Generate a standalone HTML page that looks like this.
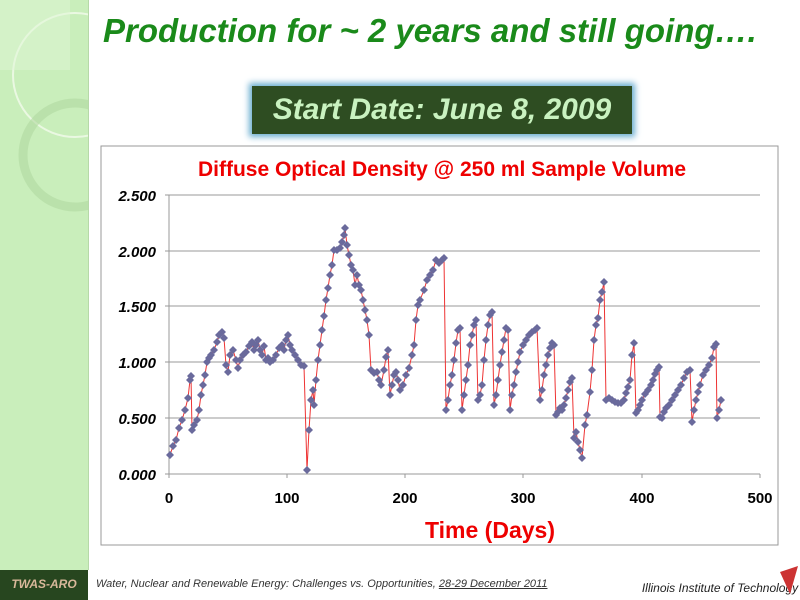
<!DOCTYPE html>
<html><head><meta charset="utf-8"><style>
body{margin:0;width:800px;height:600px;background:#fff;position:relative;overflow:hidden;font-family:"Liberation Sans",sans-serif}
.side{position:absolute;left:0;top:0;width:88px;height:570px;background:#c9eebb;border-right:1px solid #b6d9a8}
.foot{position:absolute;left:0;top:570px;width:88px;height:30px;background:#27461f;color:#d8b89a;font:italic bold 12px "Liberation Sans",sans-serif;line-height:28px;text-align:center}
.t{position:absolute;left:103px;top:12px;color:#1a8a1a;font:italic bold 33px "Liberation Sans",sans-serif;white-space:nowrap}
.sd{position:absolute;left:252px;top:86px;width:380px;height:48px;background:#2e4d22;box-shadow:0 0 6px 3px #6aaed0;color:#c9f2c0;font:italic bold 30px "Liberation Sans",sans-serif;line-height:48px;text-align:center}
.fn{position:absolute;top:578px;font:italic 11px "Liberation Sans",sans-serif;color:#333;white-space:nowrap}
</style></head><body>
<div class="side"><svg width="88" height="570"><circle cx="75" cy="75" r="62" fill="none" stroke="#eaf8e2" stroke-width="2"/><circle cx="75" cy="155" r="52" fill="none" stroke="#b0d8a0" stroke-width="9" opacity=".6"/><rect x="0" y="0" width="70" height="70" fill="#dff5d5" opacity=".5"/></svg></div>
<div class="foot">TWAS-ARO</div>
<div class="t">Production for ~ 2 years and still going….</div>
<div class="sd">Start Date: June 8, 2009</div>
<svg style="position:absolute;left:0;top:0" width="800" height="600" id="s">
<rect x="101" y="146" width="677" height="399" fill="#fff" stroke="#999"/>
<text x="442" y="176" text-anchor="middle" fill="#e00" font-size="21" font-weight="bold" font-family="Liberation Sans">Diffuse Optical Density @ 250 ml Sample Volume</text>
<g stroke="#999" stroke-width="1">
<line x1="165" y1="195" x2="760" y2="195"/><line x1="165" y1="251" x2="760" y2="251"/><line x1="165" y1="306" x2="760" y2="306"/><line x1="165" y1="362" x2="760" y2="362"/><line x1="165" y1="418" x2="760" y2="418"/><line x1="165" y1="474" x2="760" y2="474"/><line x1="169" y1="195" x2="169" y2="478"/>
<line x1="287" y1="474" x2="287" y2="478"/><line x1="405" y1="474" x2="405" y2="478"/><line x1="523" y1="474" x2="523" y2="478"/><line x1="642" y1="474" x2="642" y2="478"/><line x1="760" y1="474" x2="760" y2="478"/>
</g>
<g font-family="Liberation Sans" font-weight="bold" font-style="italic" font-size="15" text-anchor="end">
<text x="156" y="201">2.500</text><text x="156" y="257">2.000</text><text x="156" y="312">1.500</text><text x="156" y="368">1.000</text><text x="156" y="424">0.500</text><text x="156" y="480">0.000</text></g>
<g font-family="Liberation Sans" font-weight="bold" font-size="15" text-anchor="middle">
<text x="169" y="503">0</text><text x="287" y="503">100</text><text x="405" y="503">200</text><text x="523" y="503">300</text><text x="642" y="503">400</text><text x="760" y="503">500</text></g>
<text x="490" y="538" text-anchor="middle" fill="#e00" font-size="23" font-weight="bold" font-family="Liberation Sans">Time (Days)</text>
<text x="720" y="592" text-anchor="middle" font-size="12" font-style="italic" font-family="Liberation Sans" fill="#222">Illinois Institute of Technology</text>
<polygon points="780,572 798,566 790,594" fill="#c33"/>
</svg>
<div class="fn" style="left:96px">Water, Nuclear and Renewable Energy: Challenges vs. Opportunities, <u>28-29 December 2011</u></div>
<script>
var p=[170,455,173,446,176,440,179,428,182,420,185,410,188,398,190,380,191,376,192,430,194,425,197,420,199,410,201,395,203,385,205,375,207,362,209,358,211,355,214,350,217,342,219,335,222,332,224,338,226,365,228,372,230,355,233,350,236,360,238,368,240,360,243,355,246,352,249,346,252,342,254,350,256,345,258,340,260,350,262,355,264,346,266,360,268,358,270,362,273,360,276,355,279,348,282,345,284,350,286,340,288,335,290,345,292,350,295,355,298,360,301,365,304,366,307,470,309,430,311,400,313,390,314,405,316,380,318,360,320,345,322,330,324,316,326,300,328,288,330,275,332,265,334,250,337,250,340,248,342,242,344,235,345,228,347,245,349,255,351,265,353,270,355,285,357,275,359,285,361,290,363,300,365,310,367,320,369,335,371,370,374,373,377,372,379,380,381,385,384,370,386,357,388,350,390,395,392,385,394,375,396,372,398,380,400,390,403,385,406,375,409,368,412,355,414,345,416,320,418,305,420,300,424,290,427,280,430,275,433,270,436,260,439,263,442,260,444,258,446,410,448,400,450,385,452,375,454,360,456,343,458,330,460,328,462,410,464,395,466,380,468,365,470,345,472,335,474,325,476,320,478,400,480,395,482,385,484,360,486,340,488,325,490,315,492,312,494,405,496,395,498,380,500,365,502,352,504,340,506,328,508,330,510,410,512,395,514,385,516,372,518,362,520,352,523,345,526,340,529,335,532,332,535,330,537,328,540,400,542,390,544,375,546,365,548,355,550,348,552,343,554,345,556,415,558,412,560,408,562,410,564,405,566,398,568,390,570,382,572,378,574,438,576,432,578,442,580,450,582,458,585,425,587,415,590,392,592,370,594,340,596,325,598,318,600,300,602,292,604,282,606,400,609,398,612,400,615,402,618,403,621,403,624,400,626,393,628,387,630,380,632,355,634,343,636,413,638,410,640,405,642,400,645,394,648,390,651,385,653,380,655,374,657,370,659,367,660,417,662,418,664,412,666,408,669,405,672,400,675,395,678,390,681,385,684,378,687,372,690,370,692,422,694,410,696,400,698,392,700,385,703,375,706,370,709,365,712,358,714,347,716,344,717,418,719,410,721,400];
var s=document.getElementById('s'),ns='http://www.w3.org/2000/svg',pts=[];
for(var i=0;i<p.length;i+=2)pts.push(p[i]+','+p[i+1]);
var l=document.createElementNS(ns,'polyline');l.setAttribute('points',pts.join(' '));l.setAttribute('fill','none');l.setAttribute('stroke','#e33');l.setAttribute('stroke-width','1');s.appendChild(l);
for(var i=0;i<p.length;i+=2){var d=document.createElementNS(ns,'polygon'),x=p[i],y=p[i+1];d.setAttribute('points',x+','+(y-4)+' '+(x+4)+','+y+' '+x+','+(y+4)+' '+(x-4)+','+y);d.setAttribute('fill','#6a6a9c');s.appendChild(d);}
</script>
</body></html>
